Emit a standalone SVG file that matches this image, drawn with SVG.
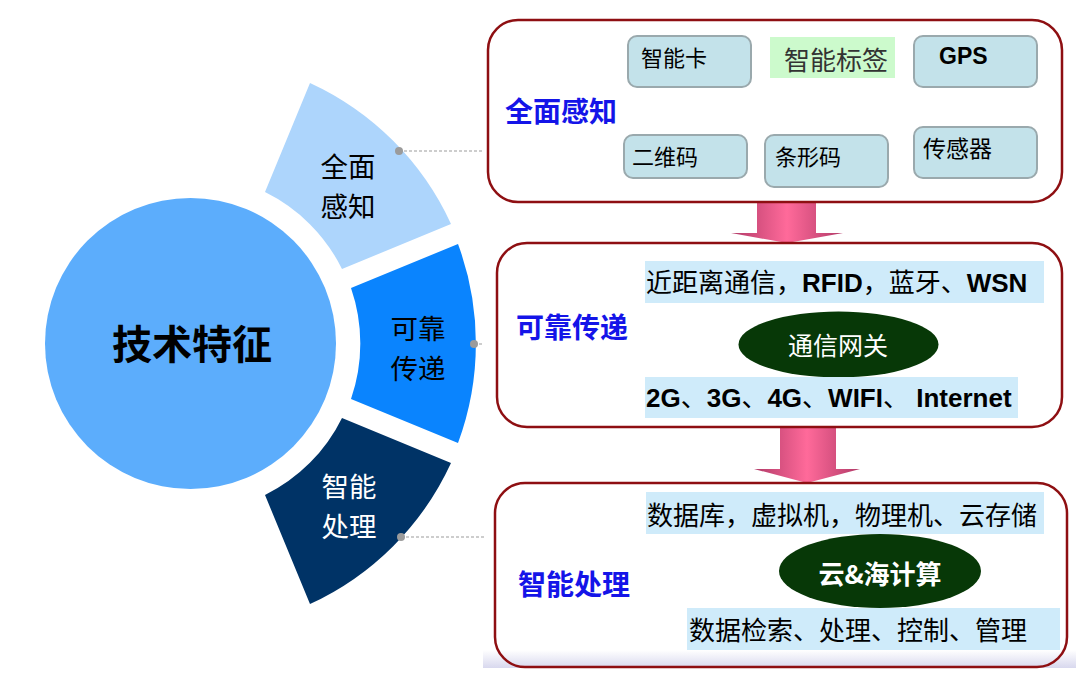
<svg xmlns="http://www.w3.org/2000/svg" width="1076" height="673" viewBox="0 0 1076 673">
<defs>
<style>
.cjk{font-family:"Noto Sans CJK SC","Liberation Sans",sans-serif}
.seg{font-family:"Noto Sans CJK SC",sans-serif;font-size:27.5px;text-anchor:middle}
.lat{font-family:"Liberation Sans","Noto Sans CJK SC",sans-serif;font-weight:bold}
.lbl{font-family:"Noto Sans CJK SC",sans-serif;font-weight:bold;fill:#1414E8;font-size:28px}
.box{fill:none;stroke:#8E0F12;stroke-width:2.5}
.cell{fill:#C3E2EA;stroke:#9AA9AD;stroke-width:2}
.row{fill:#CFEBFA}
.gw{fill:#073807}
.dot{fill:#9B9B9B}
.dash{stroke:#9B9B9B;stroke-width:1;stroke-dasharray:3 2;fill:none}
.arrow{fill:url(#pink)}
</style>
<linearGradient id="pink" x1="0" y1="0" x2="1" y2="0">
<stop offset="0" stop-color="#B23A68"/>
<stop offset="0.5" stop-color="#FF6A9A"/>
<stop offset="1" stop-color="#B23A68"/>
</linearGradient>
<linearGradient id="teal" x1="0" y1="0" x2="1" y2="0">
<stop offset="0" stop-color="#0B4A4A"/>
<stop offset="1" stop-color="#4AA6A6"/>
</linearGradient>
<linearGradient id="strip" x1="0" y1="0" x2="0" y2="1">
<stop offset="0" stop-color="#FFFFFF"/>
<stop offset="1" stop-color="#D8D8EE"/>
</linearGradient>
</defs>
<rect width="1076" height="673" fill="#FFFFFF"/>
<rect x="483" y="650" width="593" height="18" fill="url(#strip)"/>
<line x1="508" y1="17.5" x2="1076" y2="17.5" stroke="url(#teal)" stroke-width="2.5"/>

<g id="center">
<circle cx="190.5" cy="343.5" r="145.5" fill="#5CADFC"/>
<text class="cjk" x="192" y="359" font-size="40" font-weight="bold" text-anchor="middle" fill="#000">技术特征</text>
</g>

<g id="seg-perceive">
<path d="M265,192 L310,83 A287,287 0 0 1 451,224 L342,269 A169,169 0 0 0 265,192 Z" fill="#ADD5FC"/>
<text class="seg" x="348" y="177" fill="#000">全面</text>
<text class="seg" x="348" y="217" fill="#000">感知</text>
</g>

<g id="seg-transfer">
<path d="M351,288 L458,244 A286,286 0 0 1 458,443 L351,399 A170,170 0 0 0 351,288 Z" fill="#0A84FE"/>
<text class="seg" x="418" y="339" fill="#000">可靠</text>
<text class="seg" x="418" y="379" fill="#000">传递</text>
</g>

<g id="seg-process">
<path d="M265,495 L310,604 A287,287 0 0 0 451,463 L342,418 A169,169 0 0 1 265,495 Z" fill="#003366"/>
<text class="seg" x="349" y="497" fill="#FFFFFF">智能</text>
<text class="seg" x="349" y="537" fill="#FFFFFF">处理</text>
</g>

<g id="connectors">
<line class="dash" x1="399" y1="151" x2="484" y2="151"/>
<line class="dash" x1="474" y1="344" x2="483" y2="344"/>
<line class="dash" x1="401" y1="537" x2="484" y2="537"/>
<circle class="dot" cx="399" cy="151" r="4"/>
<circle class="dot" cx="474" cy="344" r="4"/>
<circle class="dot" cx="401" cy="537" r="4"/>
<path class="arrow" d="M757,202 L816,202 L816,233 L843,233 L787,243 L731,233 L757,233 Z"/>
<path class="arrow" d="M780,427 L836,427 L836,469 L860,469 L807,483 L754,469 L780,469 Z"/>
</g>

<g id="box-perceive">
<rect class="box" x="488" y="20" width="574" height="182" rx="30"/>
<text class="lbl" x="505" y="122">全面感知</text>
<rect class="cell" x="628" y="36" width="123" height="51" rx="9"/>
<text class="cjk" x="641" y="66" font-size="22" fill="#000">智能卡</text>
<rect x="770" y="37" width="125" height="41" fill="#CCFACC"/>
<text class="cjk" x="784" y="70" font-size="26" fill="#333">智能标签</text>
<rect class="cell" x="914" y="36" width="123" height="51" rx="9"/>
<text class="lat" x="939" y="64" font-size="23" fill="#000">GPS</text>
<rect class="cell" x="624" y="135" width="123" height="43" rx="9"/>
<text class="cjk" x="632" y="165" font-size="22" fill="#000">二维码</text>
<rect class="cell" x="765" y="135" width="123" height="52" rx="9"/>
<text class="cjk" x="775" y="165" font-size="22" fill="#000">条形码</text>
<rect class="cell" x="914" y="127" width="123" height="51" rx="9"/>
<text class="cjk" x="923" y="157" font-size="23" fill="#000">传感器</text>
</g>

<g id="box-transfer">
<rect class="box" x="497" y="243" width="565" height="184" rx="30"/>
<text class="lbl" x="516" y="338" font-size="27">可靠传递</text>
<rect class="row" x="645" y="261" width="399" height="42"/>
<text class="cjk" x="646" y="292" font-size="26" fill="#000">近距离通信，<tspan class="lat">RFID</tspan>，蓝牙、<tspan class="lat">WSN</tspan></text>
<ellipse class="gw" cx="838.5" cy="344.5" rx="100" ry="33"/>
<text class="cjk" x="838" y="355" font-size="25" text-anchor="middle" fill="#FFFFFF">通信网关</text>
<rect class="row" x="645" y="377" width="373" height="41"/>
<text class="cjk" x="646" y="407" font-size="26" fill="#000"><tspan class="lat">2G</tspan>、<tspan class="lat">3G</tspan>、<tspan class="lat">4G</tspan>、<tspan class="lat">WIFI</tspan>、<tspan class="lat"> Internet</tspan></text>
</g>

<g id="box-process">
<rect class="box" x="495" y="483" width="572" height="184" rx="30"/>
<text class="lbl" x="518" y="595">智能处理</text>
<rect class="row" x="646" y="492" width="398" height="42"/>
<text class="cjk" x="647" y="525" font-size="26" fill="#000">数据库，虚拟机，物理机、云存储</text>
<ellipse class="gw" cx="880" cy="571" rx="101" ry="37"/>
<text class="cjk" x="880" y="584" font-size="26" font-weight="bold" text-anchor="middle" fill="#FFFFFF">云&amp;海计算</text>
<rect class="row" x="687" y="608" width="373" height="42"/>
<text class="cjk" x="689" y="640" font-size="26" fill="#000">数据检索、处理、控制、管理</text>
</g>
</svg>
